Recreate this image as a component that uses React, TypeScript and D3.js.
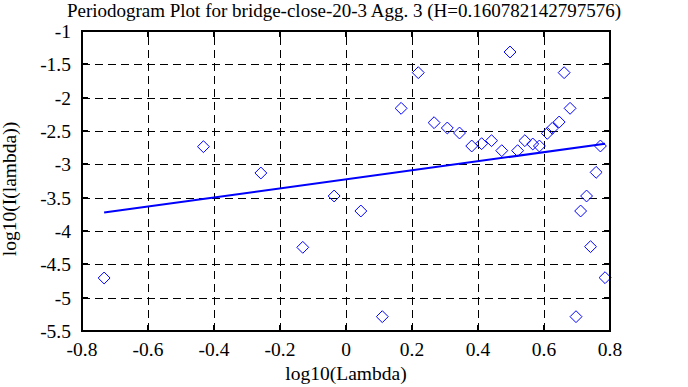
import * as d3 from 'd3';
import { useEffect, useRef } from 'react';

// log10(Lambda) of each periodogram point
const logLambda = [
  -0.733, -0.432, -0.258, -0.131, -0.036, 0.045, 0.11, 0.167, 0.219, 0.267, 0.307, 0.344, 0.381, 0.411, 0.441,
  0.472, 0.497, 0.52, 0.542, 0.566, 0.586, 0.61, 0.625, 0.646, 0.661, 0.679, 0.697, 0.711, 0.729, 0.741, 0.758,
  0.771, 0.785,
];
// log10(I(lambda)) of each periodogram point
const logI = [
  -4.705, -2.735, -3.13, -4.245, -3.475, -3.7, -5.285, -2.16, -1.625, -2.375, -2.455, -2.53, -2.725, -2.69, -2.645,
  -2.795, -1.315, -2.795, -2.645, -2.695, -2.725, -2.535, -2.46, -2.365, -1.625, -2.16, -5.285, -3.7, -3.475, -4.235,
  -3.12, -2.725, -4.7,
];

const hurst = 0.160782142797576;
const intercept = -3.225;

const xTicks = [-0.8, -0.6, -0.4, -0.2, 0, 0.2, 0.4, 0.6, 0.8];
const yTicks = [-1, -1.5, -2, -2.5, -3, -3.5, -4, -4.5, -5, -5.5];

const width = 688;
const height = 387;
const margin = { top: 31, right: 78, bottom: 56, left: 82 };
const font = '"Liberation Serif", "Times New Roman", serif';

const App = () => {
  const ref = useRef<SVGSVGElement>(null);

  useEffect(() => {
    const svg = d3.select(ref.current);
    svg.selectAll('*').remove();

    const x = d3.scaleLinear([-0.8, 0.8], [margin.left, width - margin.right]);
    const y = d3.scaleLinear([-5.5, -1], [height - margin.bottom, margin.top]);
    const [x0, x1] = x.range();
    const [y0, y1] = y.range();

    // dashed grid
    const grid = svg.append('g').attr('stroke', '#000').attr('stroke-width', 1).attr('stroke-dasharray', '8,5');
    grid
      .selectAll('.gx')
      .data(xTicks.slice(1, -1))
      .join('line')
      .attr('x1', (d) => Math.round(x(d)) + 0.5)
      .attr('x2', (d) => Math.round(x(d)) + 0.5)
      .attr('y1', y0)
      .attr('y2', y1);
    grid
      .selectAll('.gy')
      .data(yTicks.slice(1, -1))
      .join('line')
      .attr('y1', (d) => Math.round(y(d)) + 0.5)
      .attr('y2', (d) => Math.round(y(d)) + 0.5)
      .attr('x1', x0)
      .attr('x2', x1);

    // inward tick marks
    const ticks = svg.append('g').attr('stroke', '#000').attr('stroke-width', 2);
    yTicks.forEach((t) => {
      const py = Math.round(y(t));
      ticks.append('line').attr('x1', x0).attr('x2', x0 + 6).attr('y1', py).attr('y2', py);
      ticks.append('line').attr('x1', x1 - 6).attr('x2', x1).attr('y1', py).attr('y2', py);
    });
    xTicks.forEach((t) => {
      const px = Math.round(x(t));
      ticks.append('line').attr('x1', px).attr('x2', px).attr('y1', y0).attr('y2', y0 - 6);
      ticks.append('line').attr('x1', px).attr('x2', px).attr('y1', y1).attr('y2', y1 + 6);
    });

    // fitted line, slope = 1 - 2H
    const slope = 1 - 2 * hurst;
    const ext = d3.extent(logLambda) as [number, number];
    svg
      .append('path')
      .datum(ext)
      .attr('fill', 'none')
      .attr('stroke', '#0000ff')
      .attr('stroke-width', 2)
      .attr(
        'd',
        d3
          .line<number>()
          .x((d) => x(d))
          .y((d) => y(intercept + slope * d)),
      );

    // diamonds
    const sym = d3.symbol(d3.symbolDiamond2, 90);
    svg
      .append('g')
      .selectAll('path')
      .data(logLambda.map((v, i) => [v, logI[i]]))
      .join('path')
      .attr('d', sym)
      .attr('transform', (d) => `translate(${x(d[0])},${y(d[1])})`)
      .attr('fill', 'none')
      .attr('stroke', '#0000ff')
      .attr('stroke-width', 1);

    // frame
    svg
      .append('rect')
      .attr('x', x0)
      .attr('y', y1)
      .attr('width', x1 - x0)
      .attr('height', y0 - y1)
      .attr('fill', 'none')
      .attr('stroke', '#000')
      .attr('stroke-width', 2);

    const text = svg.append('g').attr('font-family', font).attr('font-size', 19.5).attr('fill', '#000');
    text
      .selectAll('.xl')
      .data(xTicks)
      .join('text')
      .attr('x', (d) => x(d))
      .attr('y', y0 + 25)
      .attr('text-anchor', 'middle')
      .text((d) => String(d));
    text
      .selectAll('.yl')
      .data(yTicks)
      .join('text')
      .attr('x', x0 - 11)
      .attr('y', (d) => y(d) + 7)
      .attr('text-anchor', 'end')
      .text((d) => String(d));

    text
      .append('text')
      .attr('x', 344)
      .attr('y', 17)
      .attr('font-size', 19)
      .attr('text-anchor', 'middle')
      .text(`Periodogram Plot for bridge-close-20-3 Agg. 3 (H=${hurst})`);
    text
      .append('text')
      .attr('x', (x0 + x1) / 2)
      .attr('y', 380)
      .attr('text-anchor', 'middle')
      .text('log10(Lambda)');
    text
      .append('text')
      .attr('transform', `translate(16,189) rotate(-90)`)
      .attr('text-anchor', 'middle')
      .text('log10(I(lambda))');
  }, []);

  return (
    <div>
      <svg
        ref={ref}
        width={width}
        height={height}
        style={{ position: 'absolute', left: 0, top: 0, background: '#fff' }}
      />
    </div>
  );
};

export default App;
